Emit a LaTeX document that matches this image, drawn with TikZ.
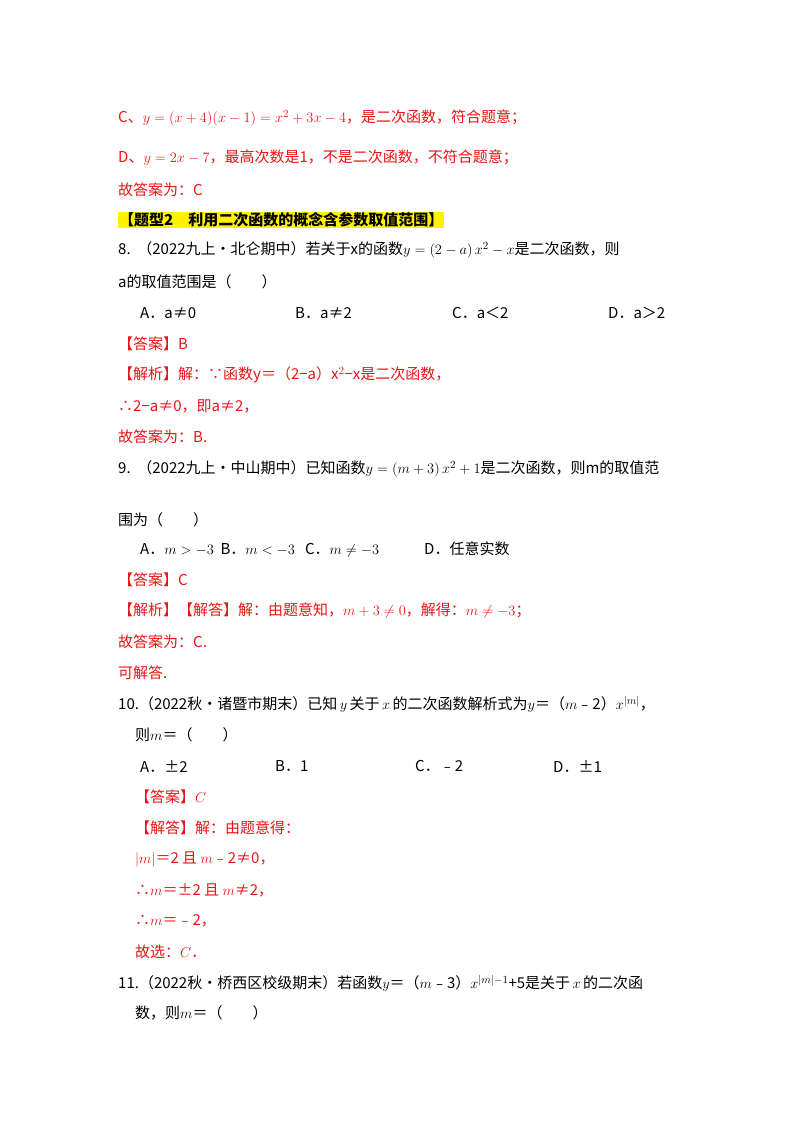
\documentclass[tikz,border=0pt]{standalone}
\usepackage{fontspec}
\setmainfont{Liberation Serif}
\newfontfamily\cjk{Noto Sans CJK SC}
\definecolor{rd}{RGB}{235,20,20}
\begin{document}
\begin{tikzpicture}[x=1pt,y=-1pt,
 t/.style={anchor=west,inner sep=0pt,font=\cjk\fontsize{15}{18}\selectfont},
 r/.style={t,text=rd}]
\useasboundingbox (0,0) rectangle (800,1132);
\node[r] (l1) at (118,118) {C、$y=(x+4)(x-1)=x^2+3x-4$，是二次函数，符合题意；};
\node[r] (l2) at (118,158) {D、$y=2x-7$，最高次数是1，不是二次函数，不符合题意；};
\node[r] (l3) at (118,190) {故答案为：C};
\node[t,fill=yellow,inner sep=1pt,font=\cjk\bfseries\fontsize{15}{18}\selectfont] (h) at (118,220) {【题型2\quad 利用二次函数的概念含参数取值范围】};
\node[t] (q8) at (118,250) {8.\ \ （2022九上·北仑期中）若关于x的函数$y=(2-a)\,x^2-x$是二次函数，则};
\node[t] (q8b) at (118,282) {a的取值范围是（\qquad）};
\node[t] (o1) at (140,313) {A．a≠0};
\node[t] (o2) at (295,313) {B．a≠2};
\node[t] (o3) at (452,313) {C．a＜2};
\node[t] (o4) at (608,313) {D．a＞2};
\node[r] (a8) at (118,344) {【答案】B};
\node[r] (j8) at (118,375) {【解析】解：∵函数y＝（2−a）x$^2$−x是二次函数，};
\node[r] (j8b) at (118,406) {∴2−a≠0，即a≠2，};
\node[r] (j8c) at (118,437) {故答案为：B.};
\node[t] (q9) at (118,469) {9.\ \ （2022九上·中山期中）已知函数$y=(m+3)\,x^2+1$是二次函数，则m的取值范};
\node[t] (q9b) at (118,520) {围为（\qquad）};
\node[t] (p9) at (140,550) {A．$m>-3$\ \ B．$m<-3$\ \ \ C．$m\neq-3$\qquad\quad D．任意实数};
\node[r] (a9) at (118,580) {【答案】C};
\node[r] (j9) at (118,611) {【解析】【解答】解：由题意知，$m+3\neq0$，解得：$m\neq-3$；};
\node[r] (j9b) at (118,642) {故答案为：C.};
\node[r] (j9c) at (118,673) {可解答.};
\node[t] (q10) at (118,704) {10.（2022秋•诸暨市期末）已知\,$y$\,关于\,$x$\,的二次函数解析式为$y$＝（$m$﹣2）$x^{|m|}$，};
\node[t] (q10b) at (135,735) {则$m$＝（\qquad）};
\node[t] (p1) at (140,766) {A．±2};
\node[t] (p2) at (275,766) {B．1};
\node[t] (p3) at (415,766) {C．﹣2};
\node[t] (p4) at (553,766) {D．±1};
\node[r] (a10) at (135,797) {【答案】$C$};
\node[r] (j10) at (135,828) {【解答】解：由题意得：};
\node[r] (j10b) at (135,859) {$|m|$＝2 且 $m$﹣2≠0，};
\node[r] (j10c) at (135,890) {∴$m$＝±2 且 $m$≠2，};
\node[r] (j10d) at (135,921) {∴$m$＝﹣2，};
\node[r] (j10e) at (135,952) {故选：$C$．};
\node[t] (q11) at (118,983) {11.（2022秋•桥西区校级期末）若函数$y$＝（$m$﹣3）$x^{|m|-1}$+5是关于\,$x$\,的二次函};
\node[t] (q11b) at (135,1013) {数，则$m$＝（\qquad）};
\end{tikzpicture}
\end{document}
